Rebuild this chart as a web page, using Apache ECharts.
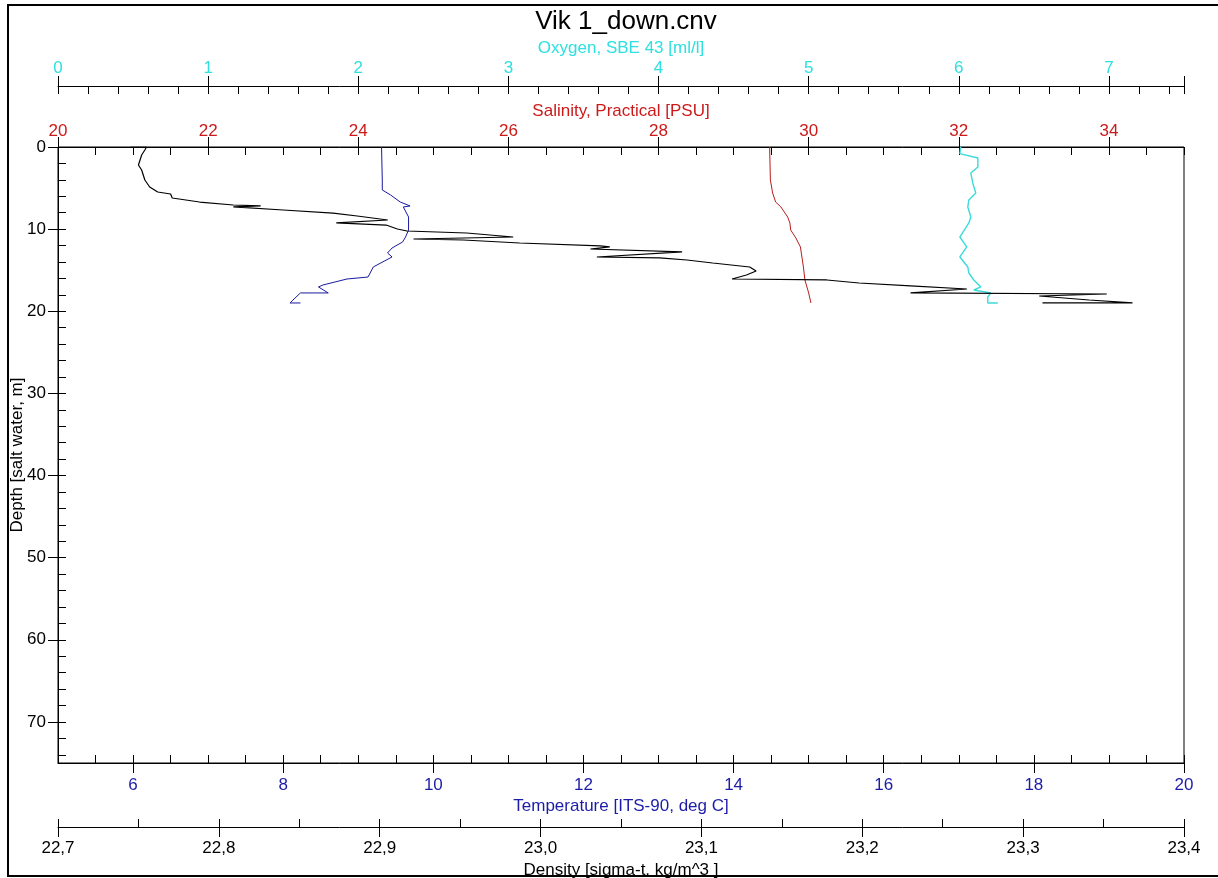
<!DOCTYPE html>
<html><head><meta charset="utf-8">
<script src="https://cdn.jsdelivr.net/npm/echarts@6/dist/echarts.min.js"></script>
<style>html,body{margin:0;padding:0;background:#fff}#c{width:1218px;height:878px}</style>
</head><body><div id="c"></div>
<script>
const titleText = 'Vik 1_down.cnv';
const depthTicks = [0, 10, 20, 30, 40, 50, 60, 70];
const oxygenTicks = [0, 1, 2, 3, 4, 5, 6, 7];
const salinityTicks = [20, 22, 24, 26, 28, 30, 32, 34];
const temperatureTicks = [6, 8, 10, 12, 14, 16, 18, 20];
const densityTicks = [22.7, 22.8, 22.9, 23.0, 23.1, 23.2, 23.3, 23.4];

// Density (sigma-t) profile
const densityDepth = [0, 0, 0.37, 0.97, 2.19, 2.80, 4.02, 4.87, 5.48, 5.72, 6.21, 6.70, 7.06, 7.18, 7.30, 7.67, 8.04, 8.40, 8.89, 9.25, 9.50, 9.98, 10.23, 10.47, 10.96, 11.20, 11.32, 11.69, 12.05, 12.17, 12.42, 12.78, 13.39, 13.51, 13.76, 14.12, 14.61, 15.10, 15.58, 16.07, 16.19, 16.56, 16.92, 17.29, 17.77, 17.90, 18.14, 18.63, 18.99, 18.99];
const densityValues = [22.745, 22.755, 22.754, 22.752, 22.750, 22.752, 22.754, 22.757, 22.762, 22.770, 22.771, 22.788, 22.809, 22.826, 22.809, 22.840, 22.871, 22.886, 22.905, 22.873, 22.904, 22.911, 22.917, 22.954, 22.983, 22.921, 22.952, 22.987, 23.037, 23.043, 23.031, 23.088, 23.035, 23.074, 23.091, 23.107, 23.130, 23.134, 23.128, 23.119, 23.178, 23.198, 23.230, 23.265, 23.230, 23.352, 23.310, 23.341, 23.368, 23.312];

// Temperature profile
const temperatureDepth = [0, 4.02, 5.23, 5.84, 6.70, 7.18, 7.30, 8.52, 10.10, 10.96, 11.57, 12.30, 12.90, 13.39, 14.61, 15.83, 16.07, 16.80, 17.04, 17.77, 17.77, 18.63, 18.99, 18.99];
const temperatureValues = [9.31, 9.32, 9.32, 9.43, 9.56, 9.69, 9.60, 9.67, 9.67, 9.63, 9.59, 9.45, 9.39, 9.45, 9.20, 9.13, 8.85, 8.53, 8.47, 8.60, 8.23, 8.13, 8.09, 8.23];

// Salinity profile
const salinityDepth = [0, 4.02, 5.60, 6.70, 7.30, 8.52, 9.25, 10.10, 11.08, 12.17, 13.39, 14.61, 16.19, 17.77, 18.99];
const salinityValues = [29.48, 29.49, 29.52, 29.56, 29.63, 29.72, 29.75, 29.76, 29.83, 29.89, 29.91, 29.93, 29.95, 30.00, 30.03];

// Oxygen profile
const oxygenDepth = [0, 0.8, 1.34, 2.43, 3.17, 4.38, 5.60, 6.45, 7.30, 8.52, 9.25, 10.96, 12.17, 13.39, 14.61, 15.34, 16.19, 17.04, 17.41, 17.77, 18.26, 18.99, 18.99];
const oxygenValues = [6.013, 6.007, 6.127, 6.127, 6.080, 6.093, 6.113, 6.067, 6.060, 6.080, 6.067, 6.007, 6.053, 6.007, 6.060, 6.067, 6.100, 6.147, 6.100, 6.213, 6.193, 6.193, 6.260];

const FONT = 'Liberation Sans, Arial, sans-serif';
const FS = 17;
const cOxy = '#2ee0e0';
const cSal = '#cc1a1a';
const cTemp = '#1c1ca8';
const cDen = '#000000';

function zip(vals, depths) { return vals.map((v, i) => [v, depths[i]]); }
function comma(v) { return v.toFixed(1).replace('.', ','); }

function mainX(opt) {
  return Object.assign({
    type: 'value', gridIndex: 0, nameLocation: 'middle', nameMoveOverlap: false,
    nameTextStyle: { fontFamily: FONT, fontSize: FS, color: opt.color },
    axisLine: { show: true, onZero: false, lineStyle: { color: '#000', width: 1 } },
    axisTick: { show: true, inside: true, length: 8, lineStyle: { color: '#000', width: 1 } },
    axisLabel: { show: true, fontFamily: FONT, fontSize: FS, color: opt.color, customValues: opt.labels, formatter: opt.fmt || (v => String(v)) },
    splitLine: { show: false }, minorTick: { show: false }
  }, opt.base);
}
function dummyX(opt) {
  return Object.assign({
    type: 'value', gridIndex: 0,
    axisLine: { show: false, onZero: false },
    axisTick: { show: true, inside: false, length: 10, customValues: opt.ticks, lineStyle: { color: '#000', width: 1 } },
    axisLabel: { show: false }, splitLine: { show: false }
  }, opt.base);
}

const oxyBase = { position: 'top', offset: 61, min: 0, max: 7.5, interval: 0.2 };
const salBase = { position: 'top', offset: 0, min: 20, max: 35, interval: 0.5 };
const tempBase = { position: 'bottom', offset: 0, min: 5, max: 20, interval: 0.5 };
const denBase = { position: 'bottom', offset: 64, min: 22.7, max: 23.4, interval: 0.05 };

const xAxes = [
  mainX({ base: Object.assign({ name: 'Oxygen, SBE 43 [ml/l]', nameGap: 29 }, oxyBase), color: cOxy, labels: oxygenTicks }),
  mainX({ base: Object.assign({ name: 'Salinity, Practical [PSU]', nameGap: 27 }, salBase), color: cSal, labels: salinityTicks }),
  mainX({ base: Object.assign({ name: 'Temperature [ITS-90, deg C]', nameGap: 35 }, tempBase), color: cTemp, labels: temperatureTicks }),
  mainX({ base: Object.assign({ name: 'Density [sigma-t, kg/m^3 ]', nameGap: 35 }, denBase), color: cDen, labels: densityTicks, fmt: comma }),
  dummyX({ base: oxyBase, ticks: oxygenTicks.concat([7.5]) }),
  dummyX({ base: salBase, ticks: salinityTicks }),
  dummyX({ base: tempBase, ticks: temperatureTicks }),
  dummyX({ base: denBase, ticks: densityTicks })
];
xAxes[0].axisLabel.margin = 9;
xAxes[1].axisLabel.margin = 7;
xAxes[2].axisLabel.margin = 14;
xAxes[3].axisLabel.margin = 13;

const yAxes = [
  {
    type: 'value', gridIndex: 0, position: 'left', inverse: true, min: 0, max: 75, interval: 2,
    name: 'Depth [salt water, m]', nameLocation: 'middle', nameGap: 32, nameMoveOverlap: false,
    nameTextStyle: { fontFamily: FONT, fontSize: FS, color: '#000' },
    axisLine: { show: true, onZero: false, lineStyle: { color: '#000', width: 1 } },
    axisTick: { show: true, inside: true, length: 8, lineStyle: { color: '#000' } },
    axisLabel: { fontFamily: FONT, fontSize: FS, color: '#000', margin: 12, customValues: depthTicks },
    splitLine: { show: false }
  },
  {
    type: 'value', gridIndex: 0, position: 'left', inverse: true, min: 0, max: 75, interval: 2,
    axisLine: { show: false, onZero: false },
    axisTick: { show: true, inside: false, length: 10, customValues: depthTicks, lineStyle: { color: '#000' } },
    axisLabel: { show: false }, splitLine: { show: false }
  }
];

function line(name, data, xi, color, w) {
  return { name, type: 'line', xAxisIndex: xi, yAxisIndex: 0, data, showSymbol: false, symbol: 'none',
    lineStyle: { color, width: w }, itemStyle: { color }, animation: false, silent: true, z: 3 };
}

const option = {
  backgroundColor: '#fff',
  animation: false,
  title: { text: titleText, left: 621, top: 4, textAlign: 'center',
    textStyle: { fontFamily: FONT, fontSize: 26, fontWeight: 'normal', color: '#000' } },
  grid: { left: 58, top: 147, right: 34, bottom: 115, show: true, borderColor: '#000', borderWidth: 1,
    backgroundColor: 'transparent', containLabel: false, outerBoundsMode: 'none' },
  graphic: [
    { type: 'rect', shape: { x: 8, y: 5, width: 1230, height: 871 }, style: { fill: 'none', stroke: '#000', lineWidth: 2 }, silent: true }
  ],
  xAxis: xAxes,
  yAxis: yAxes,
  series: [
    line('Temperature', zip(temperatureValues, temperatureDepth), 2, '#1a1aa0', 1),
    line('Salinity', zip(salinityValues, salinityDepth), 1, '#b81c1c', 1),
    line('Oxygen', zip(oxygenValues, oxygenDepth), 0, '#3ddada', 1.4),
    line('Density', zip(densityValues, densityDepth), 3, '#000', 1.2)
  ]
};
const chart = echarts.init(document.getElementById('c'), null, { renderer: 'canvas' });
chart.setOption(option);
</script></body></html>
